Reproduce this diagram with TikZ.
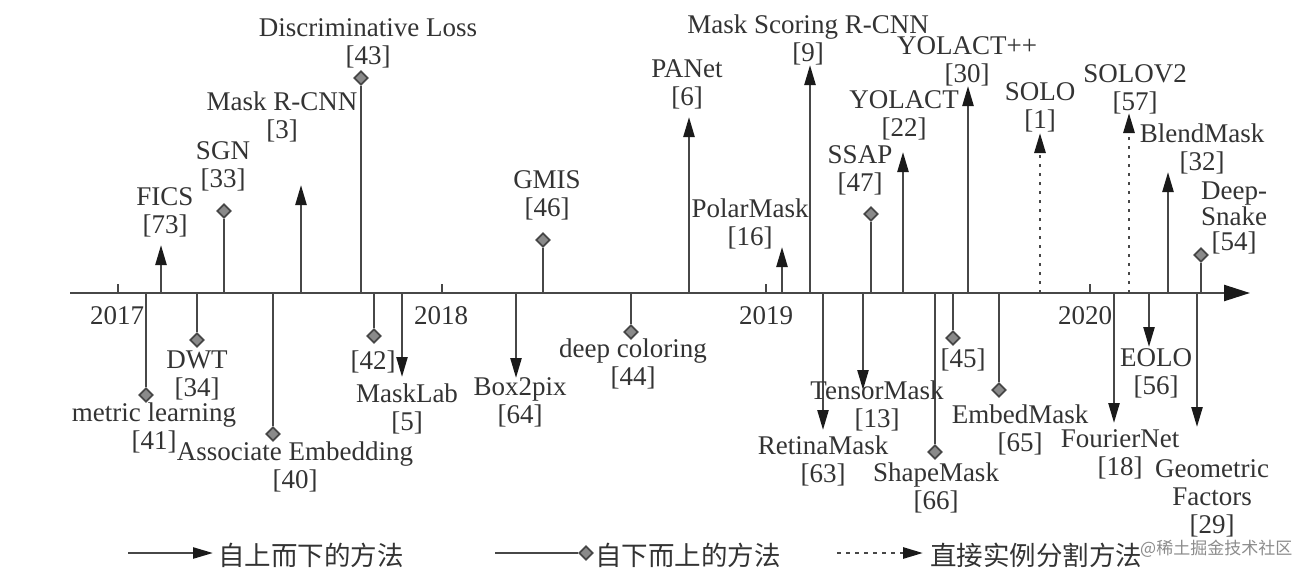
\documentclass[tikz,border=0pt]{standalone}
\usepackage{fontspec}
\setmainfont{Liberation Serif}
\newfontfamily\cjk{Noto Sans CJK SC}
\usetikzlibrary{arrows.meta,shapes.geometric}
\definecolor{stemc}{HTML}{474747}
\definecolor{tipc}{HTML}{1A1A1A}
\definecolor{dfill}{HTML}{8A8A8A}
\definecolor{txtc}{HTML}{333333}
\definecolor{wmc}{HTML}{8C8C8C}
\begin{document}
\begin{tikzpicture}[x=1pt,y=-1pt,
  stem/.style={draw=stemc,line width=2.4pt},
  tdarr/.style={stem,-{Triangle[length=20pt,width=11pt,color=tipc]}},
  dtarr/.style={tdarr,line width=2.8pt,dash pattern=on 3.5pt off 5.5pt},
  dmd/.style={diamond,draw=stemc,fill=dfill,line width=1.7pt,inner sep=0pt,minimum size=14pt},
  lbl/.style={text=txtc,font=\fontsize{27}{28}\selectfont,align=center,inner sep=0pt},
  yr/.style={lbl},
  leg/.style={text=txtc,font=\cjk\fontsize{26.5}{28}\selectfont,anchor=west,inner sep=0pt},
  ytick/.style={draw=stemc,line width=1.8pt}]
\useasboundingbox (0,0) rectangle (1314,576);
\fill[white] (0,0) rectangle (1314,576);
% axis
\coordinate (a0) at (70,293);
\coordinate (a1) at (1250,293);
\draw[stem,-{Triangle[length=26pt,width=16pt,color=tipc]}] (a0) -- (a1);
% year ticks
\foreach \n/\x in {y7/118,y8/442,y9/766,y0/1090}{
  \coordinate (\n b) at (\x,293);
  \coordinate (\n t) at (\x,284);
  \draw[ytick] (\n b) -- (\n t);
}
\node[yr] (l2017) at (117,316) {2017};
\node[yr] (l2018) at (441,316) {2018};
\node[yr] (l2019) at (766,316) {2019};
\node[yr] (l2020) at (1085,316) {2020};
% ---- stems with arrows (top-down methods)
\foreach \n/\x/\y in {fics/161/245,mrcnn/301/185,panet/689/117,polar/782/247,msr/810/65,yolact/903/152,yolactpp/968/86,blend/1168/172,
                      masklab/402/377,box/516/378,retina/823/430,tensor/863/390,fourier/1114/423,eolo/1149/347,geo/1197/427}{
  \coordinate (\n b) at (\x,293);
  \coordinate (\n t) at (\x,\y);
  \draw[tdarr] (\n b) -- (\n t);
}
% ---- dotted (direct)
\foreach \n/\x/\y in {solo/1040/133,solov/1129/113}{
  \coordinate (\n b) at (\x,293);
  \coordinate (\n t) at (\x,\y);
  \draw[dtarr] (\n b) -- (\n t);
}
% ---- diamonds (bottom-up), above
\foreach \n/\x/\y in {sgn/224/211,disc/361/78,gmis/543/240,ssap/871/214,snake/1201/255}{
  \coordinate (\n b) at (\x,293);
  \node[dmd] (\n d) at (\x,\y) {};
  \draw[stem] (\n b) -- (\n d.south);
}
% ---- diamonds below
\foreach \n/\x/\y in {metric/146/395,dwt/197/340,assoc/273/434,r42/374/336,deepc/631/332,shape/935/452,r45/953/338,embed/999/390}{
  \coordinate (\n b) at (\x,293);
  \node[dmd] (\n d) at (\x,\y) {};
  \draw[stem] (\n b) -- (\n d.north);
}
% ---- labels above
\node[lbl] (Lfics) at (165,212) {FICS\\{}[73]};
\node[lbl] (Lsgn) at (223,166) {SGN\\{}[33]};
\node[lbl] (Lmrcnn) at (282,117) {Mask R-CNN\\{}[3]};
\node[lbl] (Ldisc) at (368,43) {Discriminative Loss\\{}[43]};
\node[lbl] (Lgmis) at (547,195) {GMIS\\{}[46]};
\node[lbl] (Lpanet) at (687,84) {PANet\\{}[6]};
\node[lbl] (Lmsr) at (808,40) {Mask Scoring R-CNN\\{}[9]};
\node[lbl] (Lpolar) at (750,224) {PolarMask\\{}[16]};
\node[lbl] (Lssap) at (860,170) {SSAP\\{}[47]};
\node[lbl] (Lyolact) at (904,115) {YOLACT\\{}[22]};
\node[lbl] (Lyolactpp) at (967,61) {YOLACT++\\{}[30]};
\node[lbl] (Lsolo) at (1040,107) {SOLO\\{}[1]};
\node[lbl] (Lsolov) at (1135,89) {SOLOV2\\{}[57]};
\node[lbl] (Lblend) at (1202,149) {BlendMask\\{}[32]};
\node[lbl,font=\fontsize{27}{25.5}\selectfont] (Lsnake) at (1234,218) {Deep-\\Snake\\{}[54]};
% ---- labels below
\node[lbl] (Ldwt) at (197,375) {DWT\\{}[34]};
\node[lbl] (Lmetric) at (154,428) {metric learning\\{}[41]};
\node[lbl] (Lassoc) at (295,467) {Associate Embedding\\{}[40]};
\node[lbl] (L42) at (373,362) {[42]};
\node[lbl] (Lmasklab) at (407,409) {MaskLab\\{}[5]};
\node[lbl] (Lbox) at (520,402) {Box2pix\\{}[64]};
\node[lbl] (Ldeepc) at (633,364) {deep coloring\\{}[44]};
\node[lbl] (Ltensor) at (877,406) {TensorMask\\{}[13]};
\node[lbl] (Lretina) at (823,461) {RetinaMask\\{}[63]};
\node[lbl] (Lshape) at (936,488) {ShapeMask\\{}[66]};
\node[lbl] (L45) at (963,360) {[45]};
\node[lbl] (Lembed) at (1020,430) {EmbedMask\\{}[65]};
\node[lbl] (Lfourier) at (1120,454) {FourierNet\\{}[18]};
\node[lbl] (Leolo) at (1156,373) {EOLO\\{}[56]};
\node[lbl] (Lgeo) at (1212,498) {Geometric\\Factors\\{}[29]};
% ---- legend
\coordinate (g1a) at (128,553);
\coordinate (g1b) at (213,553);
\draw[tdarr] (g1a) -- (g1b);
\node[leg] (g1t) at (218,555) {自上而下的方法};
\coordinate (g2a) at (495,553);
\node[dmd] (g2d) at (586,553) {};
\draw[stem] (g2a) -- (g2d.west);
\node[leg] (g2t) at (595,555) {自下而上的方法};
\coordinate (g3a) at (837,553);
\coordinate (g3b) at (923,553);
\draw[dtarr] (g3a) -- (g3b);
\node[leg] (g3t) at (930,555) {直接实例分割方法};
\node[text=wmc,font=\cjk\fontsize{17}{18}\selectfont,anchor=west,inner sep=0pt] (wm) at (1140,549) {@稀土掘金技术社区};
\end{tikzpicture}
\end{document}
